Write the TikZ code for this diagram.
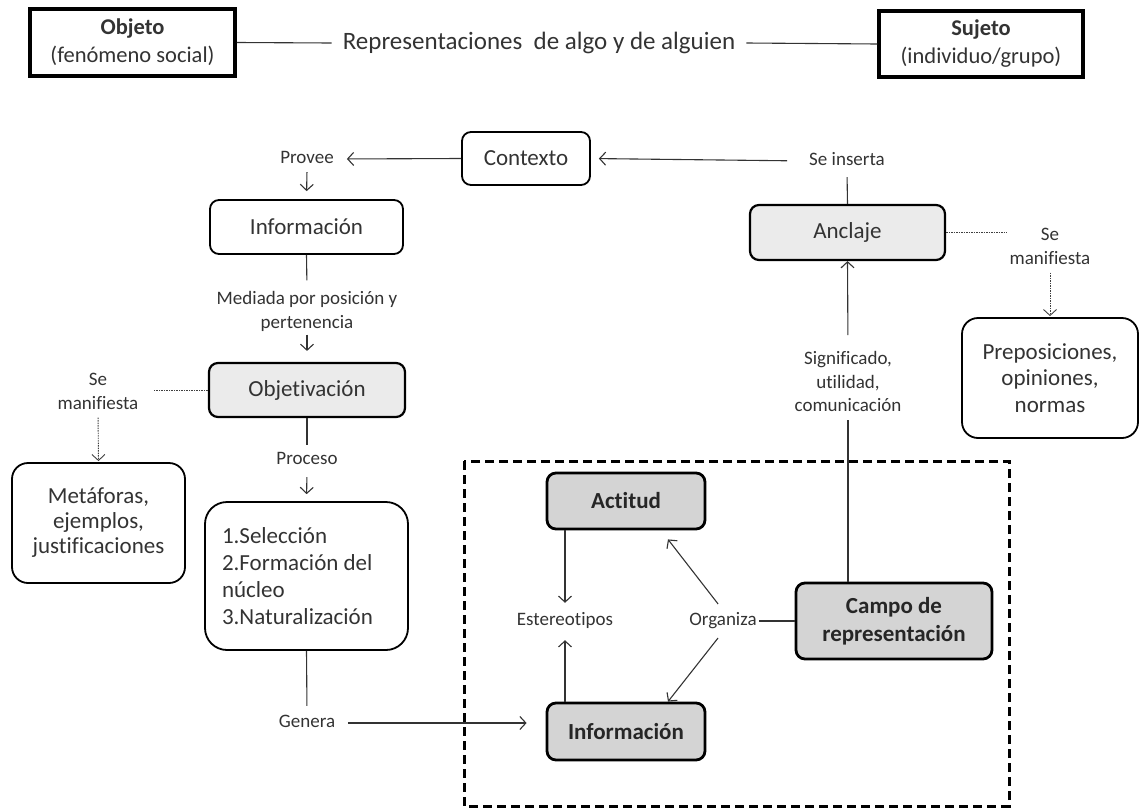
\documentclass[tikz,border=0pt]{standalone}
\usepackage{fontspec}
\setmainfont{Carlito}[Ligatures=NoCommon]
\usetikzlibrary{arrows.meta}

\definecolor{txtgray}{HTML}{333333}
\definecolor{boxlight}{HTML}{EBEBEB}
\definecolor{boxdark}{HTML}{D4D4D4}

\tikzset{
  topbox/.style={draw, line width=3.5pt, inner sep=0pt, align=center,
    font=\fontsize{22.5}{28}\selectfont, text=txtgray},
  titlelbl/.style={inner xsep=11pt, font=\fontsize{25}{30}\selectfont, text=txtgray},
  mainbox/.style={draw, line width=1.8pt, rounded corners=9pt, inner sep=0pt, align=center,
    font=\fontsize{23}{26.5}\selectfont, text=txtgray},
  boldbox/.style={mainbox, line width=2.8pt, fill=boxdark,
    font=\bfseries\fontsize{23}{28}\selectfont, text=black!85},
  mlbl/.style={inner sep=2pt, align=center, font=\fontsize{19}{23.5}\selectfont, text=txtgray},
  lbl/.style={mlbl, text height=13pt, text depth=4pt},
  conn/.style={line width=1.1pt, draw=black!80},
  arr/.style={conn, -{Straight Barb[length=6pt,width=13pt]}},
  dotline/.style={line width=0.9pt, dash pattern=on 1.5pt off 1pt, draw=black!75},
  dasharr/.style={dotline, -{Straight Barb[length=6pt,width=13pt]}},
}

\begin{document}
\begin{tikzpicture}[x=1pt,y=-1pt]
  \useasboundingbox (0,0) rectangle (1144,809);

  % Objeto --- Sujeto
  \node[topbox, minimum width=205pt, minimum height=67pt] (objeto) at (132.5,42.5) {\textbf{Objeto}\\(fenómeno social)};
  \node[topbox, minimum width=204pt, minimum height=66pt] (sujeto) at (981,44) {\textbf{Sujeto}\\(individuo/grupo)};
  \node[titlelbl] (repres) at (539,43) {Representaciones~ de algo y de alguien};
  \draw[conn] (objeto.east) -- (repres.west);
  \draw[conn] (repres.east) -- (sujeto.west);

  % Contexto
  \node[mainbox, minimum width=128pt, minimum height=53pt] (contexto) at (526,158.5) {Contexto};
  \node[lbl] (provee) at (307,159) {Provee};
  \node[lbl] (seinserta) at (847,161) {Se inserta};
  \draw[arr, shorten >=11pt] (contexto.west) -- (provee.east);
  \draw[arr, shorten <=20pt, shorten >=8pt] (seinserta.west) -- (contexto.east);

  % Informacion -> Objetivacion
  \node[mainbox, minimum width=193pt, minimum height=54pt] (info) at (306.5,227) {Información};
  \node[mlbl] (mediada) at (307,311.5) {Mediada por posición y\\pertenencia};
  \node[mainbox, line width=2.2pt, fill=boxlight, minimum width=196pt, minimum height=54pt] (objet) at (307,390) {Objetivación};
  \draw[arr, shorten <=2.5pt, shorten >=8pt] (provee.south) -- (info.north);
  \draw[conn, shorten >=9pt] (info.south) -- (mediada.north);
  \draw[arr, shorten <=1pt, shorten >=11pt] (mediada.south) -- (objet.north);

  % Se manifiesta (left)
  \node[mlbl] (manifL) at (98,391.5) {Se\\manifiesta};
  \node[mainbox, rounded corners=16pt, font=\fontsize{23}{25}\selectfont, minimum width=173pt, minimum height=120pt] (metaf) at (98.5,523) {Metáforas,\\ejemplos,\\justificaciones};
  \draw[dotline, shorten >=13pt] (objet.west) -- (objet.west -| manifL.east);
  \draw[dasharr, shorten <=6pt, shorten >=1pt] (manifL.south) -- (metaf.north);

  % Proceso
  \node[lbl] (proceso) at (307,460) {Proceso};
  \node[mainbox, rounded corners=22pt, font=\fontsize{23}{27}\selectfont, minimum width=203pt, minimum height=148pt, text width=169pt, align=flush left] (fases) at (306.5,576) {1.Selección\\2.Formación del\\núcleo\\3.Naturalización};
  \node[lbl] (genera) at (307,723) {Genera};
  \draw[conn, shorten >=4.5pt] (objet.south) -- (proceso.north);
  \draw[arr, shorten <=6.5pt, shorten >=7pt] (proceso.south) -- (fases.north);
  \draw[conn, shorten >=6.5pt] (fases.south) -- (genera.north);

  % Campo de representacion
  \draw[line width=3pt, dash pattern=on 9pt off 5pt] (464,461) rectangle (1009,806);
  \node[boldbox, minimum width=158pt, minimum height=56pt] (actitud) at (626,501) {Actitud};
  \node[boldbox, minimum width=158pt, minimum height=57pt] (info2) at (626,731.5) {Información};
  \node[boldbox, minimum width=196pt, minimum height=76pt] (campo) at (894,621) {Campo de\\representación};
  \node[lbl] (estereo) at (565,621) {Estereotipos};
  \node[lbl] (organiza) at (723,621) {Organiza};
  \draw[arr, shorten <=10.5pt, shorten >=19pt] (genera.east) -- (genera.east -| info2.west);
  \draw[arr, shorten >=7.5pt] (estereo.north |- actitud.south) -- (estereo.north);
  \draw[arr, shorten >=8.5pt] (estereo.south |- info2.north) -- (estereo.south);
  \draw[conn] (organiza.east) -- (campo.west);
  \draw[arr, shorten <=8pt] (organiza.north) -- ([xshift=42pt,yshift=-9pt]actitud.south);
  \draw[arr, shorten <=8pt] (organiza.south) -- ([xshift=42pt]info2.north);

  % Anclaje
  \node[mainbox, line width=2.2pt, fill=boxlight, minimum width=195pt, minimum height=55pt] (anclaje) at (847.5,232.5) {Anclaje};
  \node[mlbl] (signif) at (848,381.5) {Significado,\\utilidad,\\comunicación};
  \draw[conn, shorten >=6.5pt] (signif.south |- campo.north) -- (signif.south);
  \draw[arr, shorten <=14pt] (signif.north) -- (anclaje.south);
  \draw[conn, shorten >=5.5pt] (anclaje.north) -- (seinserta.south);

  % Se manifiesta (right)
  \node[mlbl] (manifR) at (1050,246.5) {Se\\manifiesta};
  \node[mainbox, rounded corners=16pt, minimum width=176pt, minimum height=120pt] (prepos) at (1050,378) {Preposiciones,\\opiniones,\\normas};
  \draw[dotline] (anclaje.east) -- (anclaje.east -| manifR.west);
  \draw[dasharr, shorten <=6pt, shorten >=1pt] (manifR.south) -- (prepos.north);

\end{tikzpicture}
\end{document}
